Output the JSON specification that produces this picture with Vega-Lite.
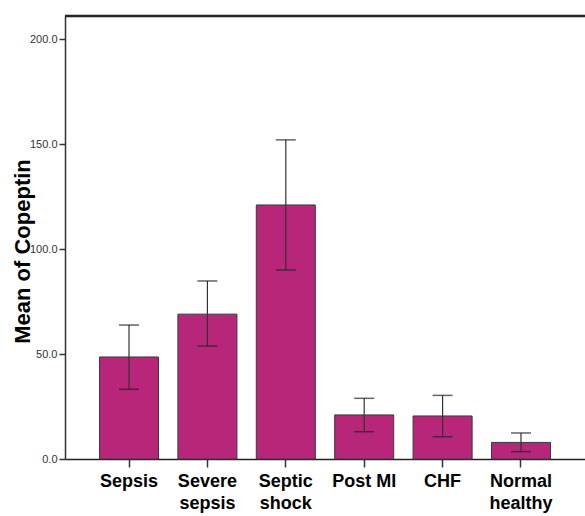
{
  "$schema": "https://vega.github.io/schema/vega-lite/v6.json",
  "width": 520,
  "height": 443,
  "autosize": {"type": "none"},
  "padding": {"left": 65, "top": 16, "right": 0, "bottom": 57},
  "background": "white",
  "config": {"view": {"stroke": null}},
  "data": {
    "values": [
      {"group": "Sepsis", "mean": 48.6, "lo": 33.2, "hi": 63.8},
      {"group": "Severe|sepsis", "mean": 69.0, "lo": 53.8, "hi": 84.8},
      {"group": "Septic|shock", "mean": 121.0, "lo": 90.0, "hi": 152.0},
      {"group": "Post MI", "mean": 21.0, "lo": 13.0, "hi": 28.9},
      {"group": "CHF", "mean": 20.5, "lo": 10.6, "hi": 30.3},
      {"group": "Normal|healthy", "mean": 7.9, "lo": 3.5, "hi": 12.4}
    ]
  },
  "encoding": {
    "x": {
      "field": "group",
      "type": "nominal",
      "sort": null,
      "scale": {"paddingInner": 0.247, "paddingOuter": 0.44},
      "axis": {
        "title": null,
        "labelAngle": 0,
        "labelExpr": "split(datum.value, '|')",
        "labelFont": "Liberation Sans",
        "labelFontWeight": "bold",
        "labelFontSize": 18,
        "labelLineHeight": 22,
        "labelColor": "#000",
        "labelPadding": 5,
        "tickSize": 8,
        "tickColor": "#333",
        "tickWidth": 1.5,
        "domainColor": "#222",
        "domainWidth": 1.5
      }
    }
  },
  "layer": [
    {
      "mark": {"type": "bar", "color": "#B8267A", "stroke": "#3a3a3a", "strokeWidth": 1},
      "encoding": {
        "y": {
          "field": "mean",
          "type": "quantitative",
          "scale": {"domain": [0, 211], "nice": false},
          "axis": {
            "title": "Mean of Copeptin",
            "titleFont": "Liberation Sans",
            "titleFontWeight": "bold",
            "titleFontSize": 22,
            "titleColor": "#000",
            "titleX": -36,
            "titleY": 235,
            "titleAngle": -90,
            "titleAlign": "center",
            "titleBaseline": "alphabetic",
            "values": [0, 50, 100, 150, 200],
            "format": ".1f",
            "grid": false,
            "labelFont": "Liberation Sans",
            "labelFontSize": 11,
            "labelColor": "#333",
            "labelPadding": 2,
            "tickSize": 6,
            "tickColor": "#333",
            "tickWidth": 1.5,
            "domainColor": "#333",
            "domainWidth": 1.5
          }
        }
      }
    },
    {
      "mark": {"type": "rule", "color": "#333", "strokeWidth": 1.2},
      "encoding": {
        "y": {"field": "lo", "type": "quantitative"},
        "y2": {"field": "hi"}
      }
    },
    {
      "mark": {"type": "tick", "color": "#222", "size": 20, "thickness": 1.5},
      "encoding": {"y": {"field": "lo", "type": "quantitative"}}
    },
    {
      "mark": {"type": "tick", "color": "#222", "size": 20, "thickness": 1.5},
      "encoding": {"y": {"field": "hi", "type": "quantitative"}}
    },
    {
      "data": {"values": [{"top": 211}]},
      "mark": {"type": "rule", "color": "#222", "strokeWidth": 2.5},
      "encoding": {"y": {"field": "top", "type": "quantitative"}, "x": null}
    }
  ]
}
